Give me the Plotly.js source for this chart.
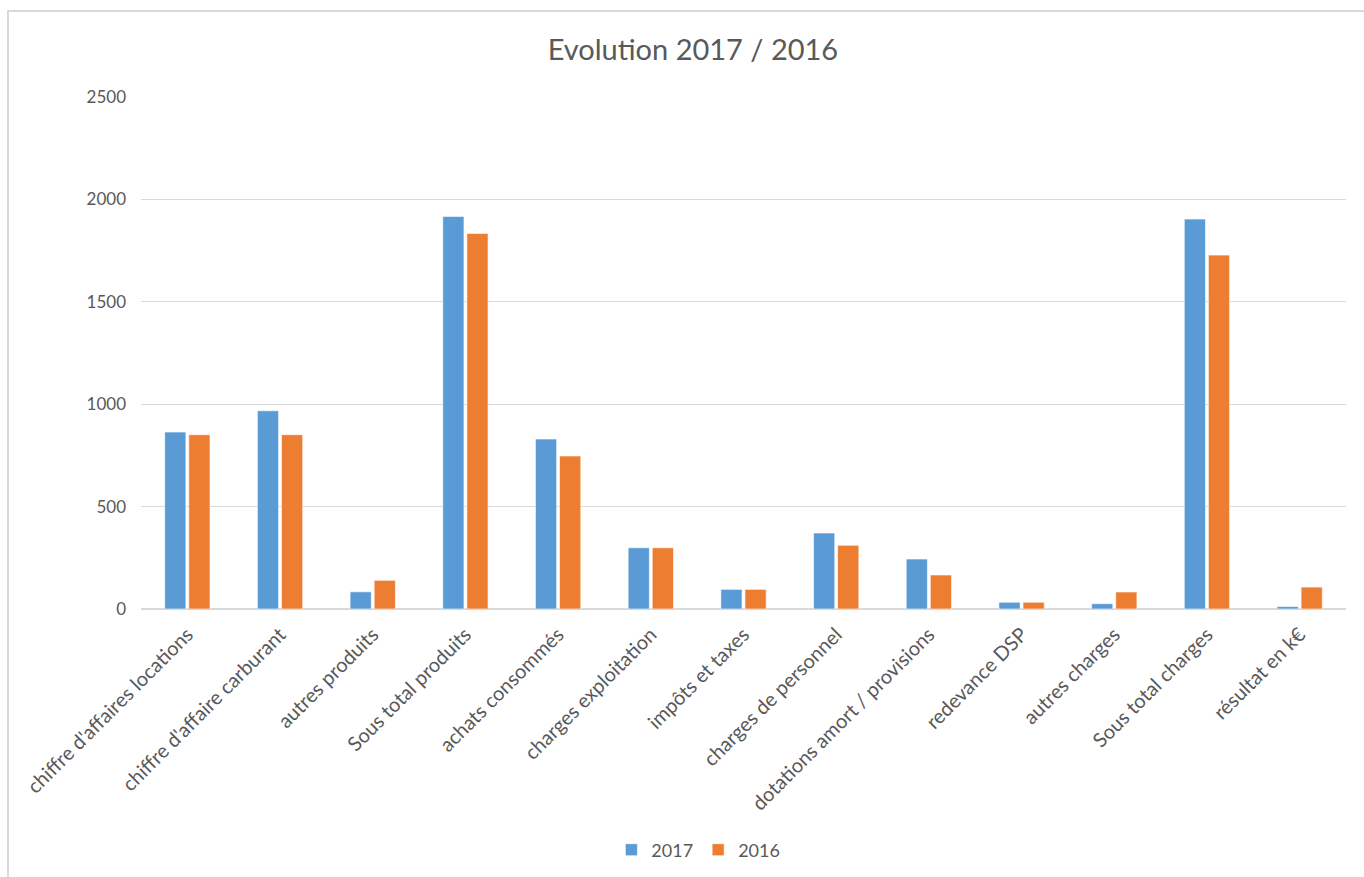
<!DOCTYPE html>
<html>
<head>
<meta charset="utf-8">
<script src="https://cdn.plot.ly/plotly-3.0.1.min.js"></script>
<style>
html,body{margin:0;padding:0;background:#fff;}
#frame{position:absolute;left:7px;top:10px;width:1357px;height:867px;border-left:2px solid #d9d9d9;border-top:2px solid #d9d9d9;box-sizing:border-box;}
#chart{position:absolute;left:0;top:0;width:1364px;height:877px;}
</style>
</head>
<body>
<div id="frame"></div>
<div id="chart"></div>
<script>
const categories = [
  "chiffre d'affaires locations",
  "chiffre d'affaire carburant",
  "autres produits",
  "Sous total produits",
  "achats consommés",
  "charges exploitation",
  "impôts et taxes",
  "charges de personnel",
  "dotations amort / provisions",
  "redevance DSP",
  "autres charges",
  "Sous total charges",
  "résultat en k€"
];
const values2017 = [864, 968, 84, 1917, 830, 299, 96, 371, 244, 33, 26, 1904, 12];
const values2016 = [851, 851, 140, 1834, 747, 299, 96, 311, 166, 33, 83, 1728, 107];
const yTicks = [0, 500, 1000, 1500, 2000, 2500];

const font = "Lato, 'Open Sans', sans-serif";
const grey = "#595959";

const data = [
  {type:'bar', name:'2017', x:categories, y:values2017,
   marker:{color:'#5B9BD5', line:{color:'rgba(255,255,255,0.6)', width:1}}, hoverinfo:'y'},
  {type:'bar', name:'2016', x:categories, y:values2016,
   marker:{color:'#ED7D31', line:{color:'rgba(255,255,255,0.6)', width:1}}, hoverinfo:'y'}
];

const layout = {
  width:1364, height:877,
  paper_bgcolor:'rgba(0,0,0,0)', plot_bgcolor:'rgba(0,0,0,0)',
  margin:{l:141, r:18, t:97, b:268},
  font:{family:font, color:grey, size:17},
  title:{text:'Evolution 2017 / 2016', font:{family:font, size:29, color:grey},
         x:0.508, xref:'container', xanchor:'center', y:1-50/877, yref:'container', yanchor:'middle'},
  barmode:'group', bargap:0.48, bargroupgap:0.12,
  xaxis:{type:'category', tickangle:-45, showgrid:false, ticks:'', showline:false,
         tickfont:{family:font, size:20, color:grey}, ticklabelstandoff:9},
  yaxis:{range:[0,2500], tickvals:yTicks, ticktext:yTicks.map(String), showgrid:true,
         gridcolor:'#d9d9d9', gridwidth:1, zeroline:true, zerolinecolor:'#d9d9d9', zerolinewidth:1.5,
         showline:false, ticks:'', tickfont:{family:font, size:17, color:grey}, ticklabelstandoff:14},
  showlegend:true,
  legend:{orientation:'h', xref:'container', yref:'container', x:0.512, xanchor:'center',
          y:1-850/877, yanchor:'middle', font:{family:font, size:18, color:grey},
          itemwidth:30, traceorder:'normal'}
};

Plotly.newPlot('chart', data, layout, {displayModeBar:false, staticPlot:true});
</script>
</body>
</html>
